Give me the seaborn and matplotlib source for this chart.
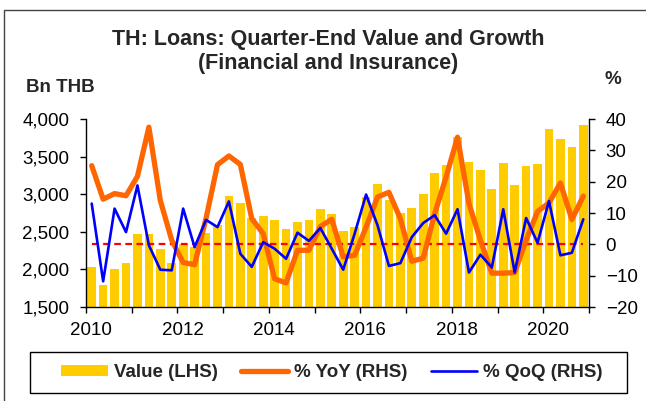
import numpy as np
import pandas as pd
import matplotlib
matplotlib.use("Agg")
import matplotlib.pyplot as plt
import seaborn as sns
from matplotlib.patches import Rectangle, Patch
from matplotlib.lines import Line2D
from matplotlib.transforms import ScaledTranslation
from matplotlib.ticker import FuncFormatter

# ---- data (quarterly, 2010Q1 .. 2020Q4) ----
quarters = [f"{y}Q{q}" for y in range(2010, 2021) for q in range(1, 5)]
value_bn_thb = [2030, 1790, 2000, 2080, 2470, 2470, 2267, 2081, 2333, 2302, 2480, 2590,
                2976, 2883, 2680, 2707, 2657, 2537, 2630, 2657, 2800, 2735, 2507, 2564,
                2967, 3140, 2927, 2750, 2813, 3003, 3282, 3388, 3764, 3428, 3317, 3073,
                3415, 3118, 3375, 3397, 3862, 3729, 3631, 3924]
yoy_pct = [25.1, 14.4, 16.2, 15.5, 21.7, 37.4, 14.0, 1.3, -5.8, -6.5, 8.3, 25.4,
           28.2, 25.5, 8.2, 3.4, -11.0, -12.3, -1.9, -1.9, 5.7, 8.0, -4.0, -3.5,
           5.5, 15.1, 16.6, 8.2, -5.4, -4.4, 9.8, 21.5, 34.2, 13.0, 1.3, -9.2,
           -9.2, -9.0, 1.3, 10.5, 13.2, 19.6, 7.9, 15.4]
qoq_pct = [13.0, -11.8, 11.4, 3.9, 18.8, -0.3, -8.1, -8.3, 11.4, -0.9, 7.8, 5.5,
           13.7, -3.0, -7.2, 0.7, -1.4, -4.6, 3.7, 1.1, 5.2, -1.4, -8.1, 3.4,
           15.9, 6.1, -6.9, -6.0, 2.3, 6.8, 9.3, 3.4, 11.2, -9.0, -3.3, -7.4,
           11.2, -9.0, 8.4, 0.5, 13.8, -3.5, -2.7, 8.0]
zero_line = [0.0] * len(quarters)
year_labels = [str(y) if y % 2 == 0 else "" for y in range(2010, 2022)]

df = pd.DataFrame({"q": np.arange(len(quarters)), "quarter": quarters,
                   "value": value_bn_thb, "yoy": yoy_pct, "qoq": qoq_pct,
                   "zero": zero_line})

sns.set_style("white")
plt.rcParams['font.family'] = ['Liberation Sans', 'DejaVu Sans']
FS = 13.5
TFS = 15.5

W, H = 646, 401
fig = plt.figure(figsize=(W / 100, H / 100), dpi=100)
ax = fig.add_axes([86 / W, 94 / H, 503 / W, 188 / H])

sns.barplot(data=df, x="q", y="value", color="#FFCC00", saturation=1,
            width=0.76, linewidth=0, ax=ax)
ax.set_ylim(1500, 4000)
ax.set_yticks(np.arange(1500, 4001, 500))
ax.yaxis.set_major_formatter(FuncFormatter(lambda v, p: f"{v:,.0f}"))
ax.set_xlabel("")
ax.set_ylabel("")

ax2 = ax.twinx()
sns.lineplot(data=df, x="q", y="zero", color="#FF0000", lw=1.6,
             dashes=False, ax=ax2, zorder=1)
ax2.lines[-1].set_dashes((3, 2))
sns.lineplot(data=df, x="q", y="yoy", color="#FF6600", lw=3.8, ax=ax2, zorder=2)
sns.lineplot(data=df, x="q", y="qoq", color="#0000FF", lw=1.9, ax=ax2, zorder=3)
ax2.set_ylim(-20, 40)
ax2.set_yticks(np.arange(-20, 41, 10))
ax2.set_xlabel("")
ax2.set_ylabel("")

ax.set_xlim(-0.5, len(quarters) - 0.5)
ax.set_xticks(np.arange(-0.5, len(quarters) + 0.5, 4))
ax.set_xticklabels(year_labels)

for a in (ax, ax2):
    for s in a.spines.values():
        s.set_color("black")
        s.set_linewidth(1)
    a.spines["top"].set_visible(False)
ax.spines["right"].set_visible(False)
ax2.spines["left"].set_visible(False)
ax2.spines["bottom"].set_visible(False)

ax.tick_params(axis="x", bottom=True, direction="out", length=4, width=1,
               labelsize=FS, pad=7, colors="black")
ax.tick_params(axis="y", left=True, direction="out", length=4, width=1,
               labelsize=FS, pad=8, colors="black")
ax2.tick_params(axis="y", right=True, direction="out", length=4, width=1,
                labelsize=FS, pad=8, colors="black")
off = ScaledTranslation(5 / 100, 0, fig.dpi_scale_trans)
for lab in ax.get_xticklabels():
    lab.set_transform(lab.get_transform() + off)

# titles and axis captions
fig.text(328 / W, 1 - 40 / H, "TH: Loans: Quarter-End Value and Growth",
         ha="center", va="center", fontsize=TFS, fontweight="bold")
fig.text(328 / W, 1 - 63 / H, "(Financial and Insurance)",
         ha="center", va="center", fontsize=TFS, fontweight="bold")
fig.text(26 / W, 1 - 87 / H, "Bn THB", ha="left", va="center",
         fontsize=FS, fontweight="bold")
fig.text(613 / W, 1 - 79 / H, "%", ha="center", va="center",
         fontsize=FS, fontweight="bold")

# outer frame
fig.patches.append(Rectangle((4 / W, -0.2), 1.2, 1.2 - 9.5 / H, fill=False,
                             edgecolor="#444444", lw=1,
                             transform=fig.transFigure, figure=fig))
# legend box
fig.patches.append(Rectangle((30 / W, 1 - 393 / H), 597 / W, 41 / H, fill=False,
                             edgecolor="black", lw=1,
                             transform=fig.transFigure, figure=fig))
handles = [Patch(facecolor="#FFCC00", edgecolor="none"),
           Line2D([], [], color="#FF6600", lw=3.8),
           Line2D([], [], color="#0000FF", lw=1.9)]
labels = ["Value (LHS)", "% YoY (RHS)", "% QoQ (RHS)"]
leg = fig.legend(handles, labels, loc="center", bbox_to_anchor=(332 / W, 1 - 372.5 / H),
                 ncol=3, frameon=False, handlelength=2.5, handletextpad=0.3,
                 columnspacing=1.25, handleheight=0.55,
                 prop={"size": FS, "weight": "bold"})

fig.savefig("out.png", dpi=100)
